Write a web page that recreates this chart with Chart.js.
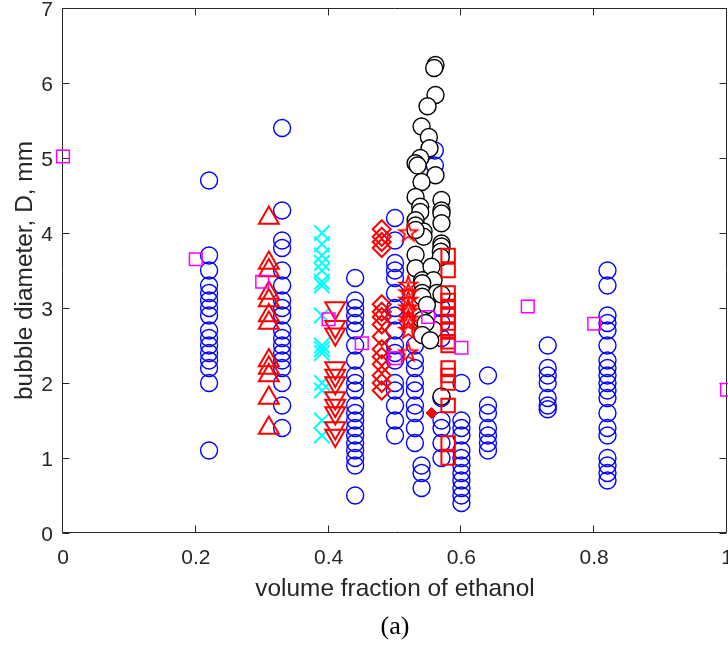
<!DOCTYPE html>
<html>
<head>
<meta charset="utf-8">
<script src="https://cdn.jsdelivr.net/npm/chart.js@4.4.1/dist/chart.umd.min.js"></script>
<style>
  html, body { margin: 0; padding: 0; background: #fff; }
  canvas { display: block; }
</style>
</head>
<body>
<canvas id="chart" width="728" height="655"></canvas>
<script>
// ---- data ----
const xTicks = [0, 0.2, 0.4, 0.6, 0.8, 1];
const yTicks = [0, 1, 2, 3, 4, 5, 6, 7];

// blue open circles, one column per ethanol fraction
const blueX = [0.22, 0.33, 0.44, 0.50, 0.53, 0.54, 0.56, 0.57, 0.60, 0.64, 0.73, 0.82];
const blueY = [
  [4.7, 3.7, 3.5, 3.3, 3.2, 3.1, 3.0, 2.9, 2.7, 2.6, 2.5, 2.4, 2.3, 2.2, 2.0, 1.1],
  [5.4, 4.3, 3.9, 3.8, 3.5, 3.3, 3.1, 3.0, 2.9, 2.7, 2.6, 2.5, 2.4, 2.3, 2.2, 2.0, 1.7, 1.4],
  [3.4, 3.1, 3.0, 2.9, 2.8, 2.7, 2.5, 2.3, 2.1, 2.0, 1.9, 1.7, 1.6, 1.5, 1.4, 1.3, 1.2, 1.1, 1.0, 0.9, 0.5],
  [4.2, 3.9, 3.6, 3.5, 3.4, 3.2, 3.0, 2.9, 2.7, 2.5, 2.4, 2.3, 2.0, 1.9, 1.7, 1.5, 1.3],
  [2.5, 2.3, 2.2, 2.0, 1.9, 1.7, 1.6, 1.4, 1.2],
  [0.9, 0.8, 0.6],
  [5.1, 4.9],
  [3.0, 2.8, 2.6, 1.8, 1.5, 1.4, 1.2, 1.0],
  [2.0, 1.5, 1.4, 1.3, 1.1, 1.0, 0.9, 0.8, 0.7, 0.6, 0.5, 0.4],
  [2.1, 1.7, 1.6, 1.4, 1.3, 1.2, 1.1],
  [2.5, 2.2, 2.1, 2.0, 1.8, 1.7, 1.65],
  [3.5, 3.3, 2.9, 2.8, 2.7, 2.5, 2.3, 2.2, 2.1, 2.0, 1.9, 1.8, 1.6, 1.4, 1.3, 1.0, 0.9, 0.8, 0.7]
];

// black circles (white fill)
const blackX = [0.561, 0.559, 0.561, 0.549, 0.540, 0.551, 0.552, 0.538, 0.531, 0.534, 0.561, 0.540,
  0.531, 0.570, 0.538, 0.570, 0.570, 0.538, 0.531, 0.570, 0.531, 0.543, 0.543, 0.531, 0.570, 0.570,
  0.569, 0.569, 0.531, 0.531, 0.555, 0.541, 0.558, 0.541, 0.541, 0.563, 0.570, 0.541, 0.548, 0.541,
  0.558, 0.546, 0.541, 0.553, 0.570];
const blackY = [6.24, 6.20, 5.84, 5.69, 5.42, 5.28, 5.13, 5.00, 4.93, 4.90, 4.77, 4.68,
  4.48, 4.44, 4.35, 4.30, 4.26, 4.28, 4.17, 4.13, 4.10, 4.02, 3.95, 4.04, 3.86, 3.82,
  3.75, 3.68, 3.71, 3.53, 3.55, 3.37, 3.37, 3.33, 3.20, 3.20, 3.18, 3.15, 3.04, 2.84,
  2.71, 2.80, 2.64, 2.57, 1.82];

const upTriX = 0.31;
const upTriY = [4.2, 3.6, 3.5, 3.2, 3.1, 2.9, 2.8, 2.3, 2.2, 2.1, 1.8, 1.4];

const crossX = 0.39;
const crossY = [4.0, 3.85, 3.7, 3.6, 3.5, 3.35, 3.3, 2.9, 2.5, 2.45, 2.4, 2.0, 1.9, 1.5, 1.3];

const downTriX = 0.41;
const downTriY = [3.0, 2.75, 2.65, 2.2, 2.1, 2.0, 1.8, 1.7, 1.6, 1.4, 1.3];

const diamondX = 0.48;
const diamondY = [4.05, 3.95, 3.88, 3.8, 3.05, 2.95, 2.88, 2.78, 2.62, 2.45, 2.35, 2.25, 2.1, 2.0, 1.9];

const starX = 0.52;
const starY = [4.0, 3.3, 3.2, 3.1, 3.0, 2.95, 2.85, 2.8, 2.7, 2.4];

const redSqX = 0.58;
const redSqY = [3.7, 3.5, 3.2, 3.1, 3.0, 2.9, 2.8, 2.7, 2.55, 2.5, 2.2, 2.1, 2.0, 1.7, 1.2, 1.0];

const dotX = [0.555];
const dotY = [1.6];

const magentaX = [0, 0.2, 0.3, 0.4, 0.45, 0.5, 0.55, 0.6, 0.7, 0.8, 1.0];
const magentaY = [5.02, 3.65, 3.35, 2.85, 2.53, 2.33, 2.88, 2.47, 3.02, 2.79, 1.91];

// ---- helpers ----
const column = (x, ys) => ys.map(y => ({ x, y }));
const pairs = (xs, ys) => xs.map((x, i) => ({ x, y: ys[i] }));

function pentagram(r, color, lw) {
  const size = Math.ceil(2 * r + 2 * lw + 2);
  const c = document.createElement('canvas');
  c.width = size;
  c.height = size;
  const g = c.getContext('2d');
  const cx = size / 2, cy = size / 2;
  g.beginPath();
  for (let i = 0; i < 10; i++) {
    const rr = i % 2 === 0 ? r : r * 0.382;
    const a = -Math.PI / 2 + i * Math.PI / 5;
    const px = cx + rr * Math.cos(a), py = cy + rr * Math.sin(a);
    if (i === 0) g.moveTo(px, py); else g.lineTo(px, py);
  }
  g.closePath();
  g.strokeStyle = color;
  g.lineWidth = lw;
  g.stroke();
  return c;
}

const AXIS = '#262626';
const SANS = '"Liberation Sans", Arial, Helvetica, sans-serif';

// box + inward ticks like matlab
const axisBox = {
  id: 'axisBox',
  beforeDatasetsDraw(chart) {
    const { ctx, chartArea: a, scales: { x, y } } = chart;
    const L = Math.round(a.left) - 0.5, R = Math.round(a.right) - 0.5;
    const T = Math.round(a.top) + 0.5, B = Math.round(a.bottom) - 0.5;
    const tl = 7;
    ctx.save();
    ctx.strokeStyle = AXIS;
    ctx.lineWidth = 1;
    ctx.beginPath();
    ctx.rect(L, T, R - L, B - T);
    xTicks.forEach(v => {
      const px = Math.round(x.getPixelForValue(v)) - 0.5;
      ctx.moveTo(px, B); ctx.lineTo(px, B - tl);
      ctx.moveTo(px, T); ctx.lineTo(px, T + tl);
    });
    yTicks.forEach(v => {
      const py = Math.round(y.getPixelForValue(v)) + 0.5;
      ctx.moveTo(L, py); ctx.lineTo(L + tl, py);
      ctx.moveTo(R, py); ctx.lineTo(R - tl, py);
    });
    ctx.stroke();
    ctx.restore();
  }
};

const base = { clip: false, showLine: false };

new Chart(document.getElementById('chart'), {
  type: 'scatter',
  data: {
    datasets: [
      { ...base, data: pairs(magentaX, magentaY), pointStyle: 'rect', pointRadius: 9,
        borderColor: '#ff00ff', backgroundColor: 'rgba(0,0,0,0)', borderWidth: 1.5 },
      { ...base, data: pairs(dotX, dotY), pointStyle: 'rectRot', pointRadius: 5.5,
        borderColor: '#ff0000', backgroundColor: '#ff0000', borderWidth: 1 },
      { ...base, data: column(redSqX, redSqY), pointStyle: 'rect', pointRadius: 9.5,
        borderColor: '#ff0000', backgroundColor: 'rgba(0,0,0,0)', borderWidth: 2 },
      { ...base, data: column(starX, starY), pointStyle: pentagram(9.5, '#ff0000', 1.8), pointRadius: 9 },
      { ...base, data: column(diamondX, diamondY), pointStyle: 'rectRot', pointRadius: 9,
        borderColor: '#ff0000', backgroundColor: 'rgba(0,0,0,0)', borderWidth: 2 },
      { ...base, data: column(downTriX, downTriY), pointStyle: 'triangle', rotation: 180, pointRadius: 11.5,
        borderColor: '#ff0000', backgroundColor: 'rgba(0,0,0,0)', borderWidth: 2 },
      { ...base, data: column(crossX, crossY), pointStyle: 'crossRot', pointRadius: 11,
        borderColor: '#00ffff', backgroundColor: 'rgba(0,0,0,0)', borderWidth: 2 },
      { ...base, data: column(upTriX, upTriY), pointStyle: 'triangle', pointRadius: 11.5,
        borderColor: '#ff0000', backgroundColor: 'rgba(0,0,0,0)', borderWidth: 2 },
      { ...base, data: pairs(blackX, blackY), pointStyle: 'circle', pointRadius: 8.5,
        borderColor: '#000000', backgroundColor: '#ffffff', borderWidth: 1.4 },
      { ...base, data: blueX.flatMap((x, i) => column(x, blueY[i])), pointStyle: 'circle', pointRadius: 8.5,
        borderColor: '#0000ff', backgroundColor: 'rgba(0,0,0,0)', borderWidth: 1.4 }
    ]
  },
  options: {
    responsive: false,
    devicePixelRatio: 1,
    animation: false,
    events: [],
    layout: { autoPadding: false, padding: { left: 0, right: 1, top: 8, bottom: 0 } },
    plugins: {
      legend: { display: false },
      tooltip: { enabled: false },
      title: {
        display: true,
        position: 'bottom',
        fullSize: false,
        text: '(a)',
        color: '#000',
        font: { family: '"Liberation Serif", "DejaVu Serif", serif', size: 26, weight: 'normal' },
        padding: { top: 0, bottom: 12 }
      }
    },
    scales: {
      x: {
        type: 'linear',
        min: 0, max: 1,
        grid: { display: false, drawTicks: false },
        border: { display: false },
        afterBuildTicks: s => { s.ticks = xTicks.map(v => ({ value: v })); },
        ticks: {
          color: AXIS, padding: 13, maxRotation: 0,
          font: { family: SANS, size: 21 },
          callback: v => String(Math.round(v * 10) / 10)
        },
        title: {
          display: true, text: 'volume fraction of ethanol', color: AXIS,
          font: { family: SANS, size: 24.4 }, padding: { top: 0, bottom: 8 }
        },
        afterFit: s => { s.height = 78.8; s.paddingLeft = 0; s.paddingRight = 0; }
      },
      y: {
        type: 'linear',
        min: 0, max: 7,
        grid: { display: false, drawTicks: false },
        border: { display: false },
        afterBuildTicks: s => { s.ticks = yTicks.map(v => ({ value: v })); },
        ticks: { color: AXIS, padding: 10, labelOffset: 2.5, font: { family: SANS, size: 21 } },
        title: {
          display: true, text: 'bubble diameter, D, mm', color: AXIS,
          font: { family: SANS, size: 24.4 }, padding: { top: 10.5, bottom: 0 }
        },
        afterFit: s => { s.width = 63; s.paddingTop = 0; s.paddingBottom = 0; }
      }
    }
  },
  plugins: [axisBox]
});
</script>
</body>
</html>
